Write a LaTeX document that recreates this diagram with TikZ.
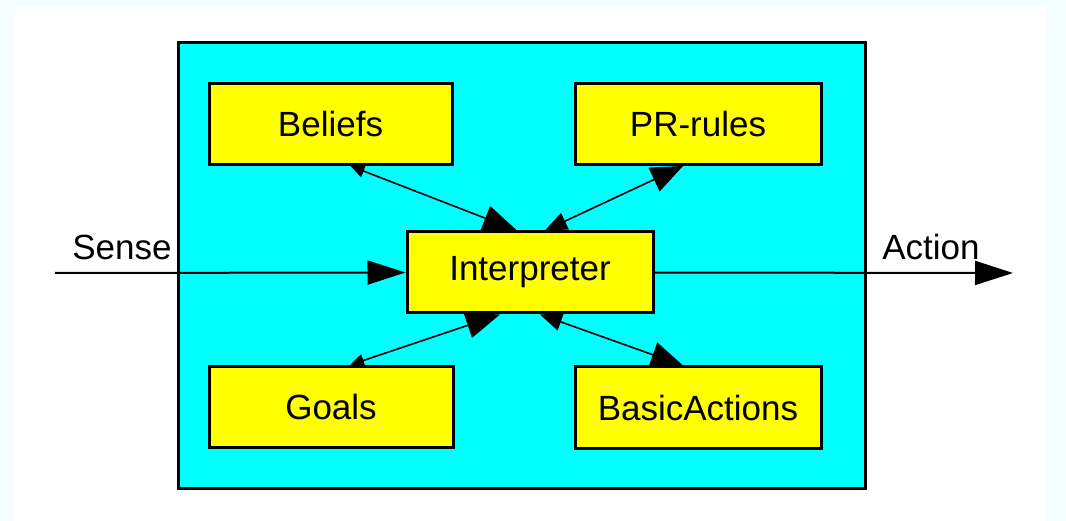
\documentclass[tikz,border=0pt]{standalone}
\usepackage{fontspec}
\setmainfont{Liberation Sans}
\definecolor{paleazure}{RGB}{243,255,255}
\definecolor{agentcyan}{RGB}{0,255,255}
\definecolor{partyellow}{RGB}{255,255,0}
\usetikzlibrary{
  arrows.meta,
  positioning,
}
\tikzset{
  >={Triangle[length=38pt,width=24pt]},
  part/.style={draw,rectangle,fill=partyellow,line width=3pt,inner sep=0pt,
    minimum height=81pt,font=\fontsize{35}{40}\selectfont},
  label text/.style={inner sep=0pt,anchor=base,font=\fontsize{35}{40}\selectfont},
  smallbig/.style={line width=1.6pt,
    arrows={Triangle[length=14pt,width=13pt]}-{Triangle[length=34pt,width=26pt]}},
  bigmid/.style={line width=1.6pt,
    arrows={Triangle[length=32pt,width=26pt]}-{Triangle[length=22pt,width=18pt]}},
}
\begin{document}
\begin{tikzpicture}[x=1pt,y=-1pt]

        % page and agent frame
        \fill[paleazure] (0,0) rectangle (1066,521);
        \fill[white] (14,7) rectangle (1047,521);
        \draw[fill=agentcyan,line width=3pt] (178,43) rectangle (865,488);

        \node[part,minimum width=243pt]    (bel)    at (330.5,124)    {Beliefs};
        \node[part,minimum width=246pt]    (pr)     at (698,124)      {PR-rules};
        \node[part,minimum width=246pt]    (int)    at (530,272.5)    {Interpreter};
        \node[part,minimum width=244pt]    (goa)    at (331,407)      {Goals};
        \node[part,minimum width=246pt]    (bas)    at (698,407.5)    {BasicActions};

        \coordinate (sense) at (55,273);
        \coordinate (action) at (1013,273);
        \node[label text]    (senselbl)     at (122,260)    {Sense};
        \node[label text]    (actionlbl)    at (931,260)    {Action};

        \draw[->,line width=2pt] (sense) -- (int.west);
        \draw[->,line width=2pt] (int.east) -- (action);

        \draw[smallbig] ([xshift=20pt]bel.south) -- ([xshift=-13pt]int.north);
        \draw[bigmid] ([xshift=-15pt]pr.south) -- ([xshift=15pt]int.north);
        \draw[smallbig] ([xshift=19pt]goa.north) -- ([xshift=-30pt]int.south);
        \draw[bigmid] ([xshift=-15pt]bas.north) -- ([xshift=10pt]int.south);

    \end{tikzpicture}
\end{document}
